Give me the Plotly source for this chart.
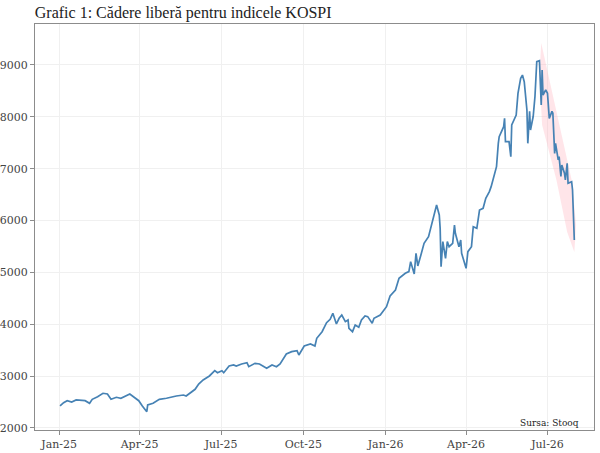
import plotly.graph_objects as go

dates = [
    "2025-01-02", "2025-01-06", "2025-01-10", "2025-01-15", "2025-01-20", "2025-01-24",
    "2025-01-30", "2025-02-04", "2025-02-07", "2025-02-13", "2025-02-19", "2025-02-24",
    "2025-02-28", "2025-03-06", "2025-03-11", "2025-03-21", "2025-03-26", "2025-03-31",
    "2025-04-04", "2025-04-09", "2025-04-10", "2025-04-16", "2025-04-23", "2025-05-01",
    "2025-05-12", "2025-05-20", "2025-05-23", "2025-05-29", "2025-06-02", "2025-06-06",
    "2025-06-11", "2025-06-18", "2025-06-24", "2025-06-27", "2025-07-02", "2025-07-04",
    "2025-07-10", "2025-07-15", "2025-07-18", "2025-07-24", "2025-07-30", "2025-08-01",
    "2025-08-08", "2025-08-13", "2025-08-21", "2025-08-27", "2025-09-01", "2025-09-05",
    "2025-09-12", "2025-09-18", "2025-09-24", "2025-09-26", "2025-10-02", "2025-10-09",
    "2025-10-14", "2025-10-16", "2025-10-22", "2025-10-27", "2025-10-31", "2025-11-03",
    "2025-11-07", "2025-11-10", "2025-11-13", "2025-11-17", "2025-11-20", "2025-11-21",
    "2025-11-25", "2025-11-28", "2025-12-02", "2025-12-05", "2025-12-09", "2025-12-12",
    "2025-12-17", "2025-12-19", "2025-12-26", "2026-01-02", "2026-01-06", "2026-01-12",
    "2026-01-16", "2026-01-23", "2026-01-27", "2026-01-29", "2026-02-02", "2026-02-04",
    "2026-02-06", "2026-02-10", "2026-02-13", "2026-02-18", "2026-02-20", "2026-02-24",
    "2026-02-27", "2026-03-02", "2026-03-03", "2026-03-04", "2026-03-06", "2026-03-09",
    "2026-03-11", "2026-03-13", "2026-03-17", "2026-03-19", "2026-03-20", "2026-03-24",
    "2026-03-26", "2026-03-27", "2026-04-01", "2026-04-03", "2026-04-07", "2026-04-09",
    "2026-04-13", "2026-04-16", "2026-04-20", "2026-04-23", "2026-04-27", "2026-04-29",
    "2026-05-01", "2026-05-05", "2026-05-07", "2026-05-08", "2026-05-13", "2026-05-14",
    "2026-05-15", "2026-05-19", "2026-05-21", "2026-05-22", "2026-05-27", "2026-05-28",
    "2026-05-29", "2026-06-01", "2026-06-03", "2026-06-05", "2026-06-08", "2026-06-09",
    "2026-06-11", "2026-06-12", "2026-06-15", "2026-06-17", "2026-06-18", "2026-06-19",
    "2026-06-22", "2026-06-24", "2026-06-25", "2026-06-26", "2026-06-29", "2026-07-01",
    "2026-07-03", "2026-07-06", "2026-07-07", "2026-07-09", "2026-07-10", "2026-07-13",
    "2026-07-14", "2026-07-16", "2026-07-17", "2026-07-20", "2026-07-21", "2026-07-23",
    "2026-07-24", "2026-07-28", "2026-07-29", "2026-07-31",
]
kospi = [
    2424, 2488, 2526, 2501, 2540, 2540,
    2526, 2476, 2553, 2604, 2669, 2656,
    2553, 2592, 2573, 2656, 2592, 2526,
    2424, 2314, 2443, 2476, 2553, 2573,
    2617, 2636, 2617, 2700, 2746, 2848,
    2926, 3003, 3105, 3066, 3105, 3066,
    3195, 3215, 3195, 3234, 3259, 3182,
    3247, 3234, 3150, 3215, 3182, 3234,
    3427, 3471, 3490, 3408, 3581, 3620,
    3581, 3730, 3857, 4030, 4096, 4211,
    4005, 4115, 4179, 4050, 4082, 3922,
    3857, 3986, 3942, 4082, 4160, 4147,
    4018, 4115, 4179, 4339, 4545, 4661,
    4887, 4983, 5015, 5208, 4970, 5368,
    5124, 5368, 5561, 5690, 5831, 6074,
    6300, 6107, 5850, 5110, 5593, 5272,
    5593, 5496, 5561, 5914, 5754, 5496,
    5625, 5368, 5079, 5400, 5496, 5882,
    5850, 6203, 6236, 6429, 6558, 6654,
    6783, 7040, 7489, 7617, 7810, 7971,
    7521, 7521, 7232, 7843, 8035, 8228,
    8453, 8742, 8806, 8677, 8132, 7489,
    8105, 7746, 8006, 8392, 8806, 9064,
    9084, 8228, 8903, 8421, 8518, 8453,
    7971, 8105, 8068, 7296, 7489, 7168,
    7232, 6850, 7072, 6911, 6783, 7104,
    6718, 6750, 6590, 5625,
]

band_dates = ["2026-06-24", "2026-07-03", "2026-07-15", "2026-07-28", "2026-08-02",
              "2026-07-31", "2026-07-23", "2026-07-11", "2026-06-25", "2026-06-22"]
band_values = [9424, 8711, 7746, 6782, 5914, 5394, 5779, 6782, 7843, 8807]

x_ticks = ["2025-01-01", "2025-04-01", "2025-07-01", "2025-10-01",
           "2026-01-01", "2026-04-01", "2026-07-01"]
y_ticks = [2000, 3000, 4000, 5000, 6000, 7000, 8000, 9000]

title_text = "Grafic 1: Cădere liberă pentru indicele KOSPI"
source_text = "Sursa: Stooq"

tick_font = "Georgia, 'DejaVu Serif', serif"
title_font = "Georgia, 'Liberation Serif', serif"

fig = go.Figure()
fig.add_trace(go.Scatter(
    x=band_dates, y=band_values, fill="toself", mode="lines",
    line=dict(width=0), fillcolor="rgba(255,175,188,0.33)",
    hoverinfo="skip", showlegend=False,
))
fig.add_trace(go.Scatter(
    x=dates, y=kospi, mode="lines",
    line=dict(color="#4682b4", width=1.7),
    showlegend=False,
))

axis_common = dict(
    showline=True, linecolor="#8c8c8c", linewidth=1, mirror=True,
    ticks="outside", ticklen=4, tickcolor="#8c8c8c",
    showgrid=True, gridcolor="#f0f0f0", gridwidth=1, zeroline=False,
    automargin=False,
    tickfont=dict(family=tick_font, size=11, color="#444"),
)

fig.update_layout(
    width=600, height=453,
    margin=dict(l=35, r=6, t=24, b=23),
    paper_bgcolor="white", plot_bgcolor="white",
    title=dict(text=title_text, x=0.058, xanchor="left", y=0.973, yanchor="middle",
               font=dict(family=title_font, size=16, color="#222")),
    xaxis=dict(range=["2024-12-05", "2026-08-22"], tickvals=x_ticks,
               tickformat="%b-%y", **axis_common),
    yaxis=dict(range=[1961, 9790], tickvals=y_ticks, **axis_common),
    annotations=[dict(text=source_text, xref="paper", yref="paper", x=0.977, y=0.0,
                      xanchor="right", yanchor="bottom", showarrow=False,
                      font=dict(family=tick_font, size=9, color="#222"))],
)

fig.write_html("out.html")
